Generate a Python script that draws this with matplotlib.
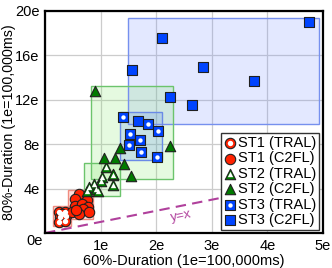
import matplotlib
matplotlib.use("Agg")
import matplotlib.pyplot as plt
from matplotlib.patches import Rectangle
from matplotlib.legend_handler import HandlerTuple

plt.rcParams['font.family'] = ['Liberation Sans', 'DejaVu Sans']

# data, units of 1e=100,000ms
st1_tral_x = [0.25, 0.36, 0.27, 0.37, 0.25, 0.36, 0.31]
st1_tral_y = [1.92, 1.92, 1.47, 1.53, 1.02, 1.11, 1.70]
st1_c2fl_x = [0.62, 0.54, 0.76, 0.54, 0.66, 0.77, 0.69, 0.48, 0.61, 0.80, 0.56]
st1_c2fl_y = [3.50, 3.05, 3.00, 2.45, 2.58, 2.30, 2.12, 1.85, 1.75, 1.85, 2.05]
st2_tral_x = [1.10, 1.03, 1.22, 1.00, 0.88, 1.22, 0.80, 0.92, 0.76, 0.95]
st2_tral_y = [5.95, 5.05, 5.20, 4.65, 4.40, 4.30, 4.15, 4.00, 3.80, 3.75]
st2_c2fl_x = [0.90, 2.24, 1.34, 1.06, 1.26, 1.42, 1.23, 1.54]
st2_c2fl_y = [12.79, 7.84, 7.63, 6.75, 6.75, 6.19, 5.30, 5.15]
st3_tral_x = [1.41, 1.86, 2.03, 1.53, 1.71, 1.51, 1.73, 2.02]
st3_tral_y = [10.48, 9.79, 9.22, 8.95, 8.38, 7.93, 7.27, 6.87]
st3_c2fl_x = [4.75, 2.10, 2.85, 3.75, 2.25, 2.65, 1.57, 1.68]
st3_c2fl_y = [18.98, 17.57, 14.93, 13.69, 12.28, 11.50, 14.66, 10.09]

# range boxes (x0, x1, y0, y1)
st1_tral_box = (0.14, 0.47, 0.65, 2.40)
st1_c2fl_box = (0.42, 0.86, 1.30, 3.90)
st2_tral_box = (0.71, 1.35, 3.30, 6.28)
st2_c2fl_box = (0.82, 2.31, 4.86, 13.27)
st3_tral_box = (1.35, 2.10, 6.58, 10.87)
st3_c2fl_box = (1.50, 4.92, 9.79, 19.40)

x_ticks = [0, 1, 2, 3, 4, 5]
y_ticks = [0, 4, 8, 12, 16, 20]

red, green, blue = '#ff2200', '#007a00', '#0044ff'
edge = '#202020'

fig = plt.figure(figsize=(3.32, 2.68), dpi=100)
ax = fig.add_axes([0.1355, 0.1306, 0.8375, 0.8284])


def box(b, face, ec, alpha):
    x0, x1, y0, y1 = b
    ax.add_patch(Rectangle((x0, y0), x1 - x0, y1 - y0, facecolor=face, alpha=alpha,
                           edgecolor='none', zorder=1))
    ax.add_patch(Rectangle((x0, y0), x1 - x0, y1 - y0, facecolor='none',
                           edgecolor=ec, lw=1.0, zorder=1.1))


box(st3_c2fl_box, (0.45, 0.55, 1.0), '#7690ee', 0.2)
box(st2_c2fl_box, (0.5, 0.9, 0.4), '#6cc46c', 0.2)
box(st2_tral_box, (0.5, 0.9, 0.4), '#6cc46c', 0.2)
box(st3_tral_box, (0.3, 0.5, 0.95), '#6a8ae6', 0.2)
box(st1_c2fl_box, (1.0, 0.5, 0.45), '#f08c80', 0.25)
box(st1_tral_box, (1.0, 0.5, 0.45), '#f08c80', 0.25)

ax.plot([0, 5], [0, 5], ls=(0, (5, 3)), color='#b0409c', lw=1.5, zorder=2)
ax.text(2.45, 1.55, 'y=x', color='#b0409c', fontsize=9.5, rotation=11,
        ha='center', va='center', zorder=2)

ms = 56
h = {}
h['s1t'] = ax.scatter(st1_tral_x, st1_tral_y, s=ms, c=red, edgecolors=edge, lw=0.8, marker='o', zorder=3)
h['s1tw'] = ax.scatter(st1_tral_x, st1_tral_y, s=15, c='white', marker='o', lw=0, zorder=3.1)
h['s1c'] = ax.scatter(st1_c2fl_x, st1_c2fl_y, s=ms, c=red, edgecolors=edge, lw=0.8, marker='o', zorder=3)
h['s2t'] = ax.scatter(st2_tral_x, st2_tral_y, s=ms, c=green, edgecolors=edge, lw=0.8, marker='^', zorder=3)
h['s2tw'] = ax.scatter(st2_tral_x, st2_tral_y, s=15, c='white', marker='^', lw=0, zorder=3.1)
h['s2c'] = ax.scatter(st2_c2fl_x, st2_c2fl_y, s=ms, c=green, edgecolors=edge, lw=0.8, marker='^', zorder=3)
h['s3t'] = ax.scatter(st3_tral_x, st3_tral_y, s=46, c=blue, edgecolors=edge, lw=0.8, marker='s', zorder=3)
h['s3tw'] = ax.scatter(st3_tral_x, st3_tral_y, s=10, c='white', marker='o', lw=0, zorder=3.1)
h['s3c'] = ax.scatter(st3_c2fl_x, st3_c2fl_y, s=46, c=blue, edgecolors=edge, lw=0.8, marker='s', zorder=3)

ax.set_xlim(0, 5)
ax.set_ylim(0, 20)
ax.set_xticks(x_ticks)
ax.set_yticks(y_ticks)
ax.set_xticklabels([''] + [f'{t}e' for t in x_ticks[1:]])
ax.set_yticklabels([''] + [f'{t}e' for t in y_ticks[1:]])
ax.text(-0.038, -0.036, '0e', transform=ax.transAxes, ha='center', va='center', fontsize=10.5)
ax.tick_params(length=0, labelsize=10.5, pad=4)
ax.grid(True, color='#cccccc', lw=0.9, zorder=0)
ax.set_axisbelow(True)
for s in ax.spines.values():
    s.set_linewidth(1.6)
ax.set_xlabel('60%-Duration (1e=100,000ms)', fontsize=10.5, labelpad=1)
ax.set_ylabel('80%-Duration (1e=100,000ms)', fontsize=10.3, va='center')
ax.yaxis.set_label_coords(-0.128, 0.5)

handles = [(h['s1t'], h['s1tw']), h['s1c'], (h['s2t'], h['s2tw']), h['s2c'],
           (h['s3t'], h['s3tw']), h['s3c']]
labels = ['ST1 (TRAL)', 'ST1 (C2FL)', 'ST2 (TRAL)', 'ST2 (C2FL)', 'ST3 (TRAL)', 'ST3 (C2FL)']
leg = ax.legend(handles, labels, loc='lower right', bbox_to_anchor=(0.986, 0.013),
                borderaxespad=0, fontsize=10.5, handler_map={tuple: HandlerTuple(ndivide=1)},
                handlelength=0.8, handletextpad=0.15, labelspacing=0.1, borderpad=0.2,
                fancybox=False, framealpha=1, edgecolor='#333333', scatterpoints=1)
leg.get_frame().set_linewidth(1.0)
leg.set_zorder(5)

fig.savefig('out.png', dpi=100)
